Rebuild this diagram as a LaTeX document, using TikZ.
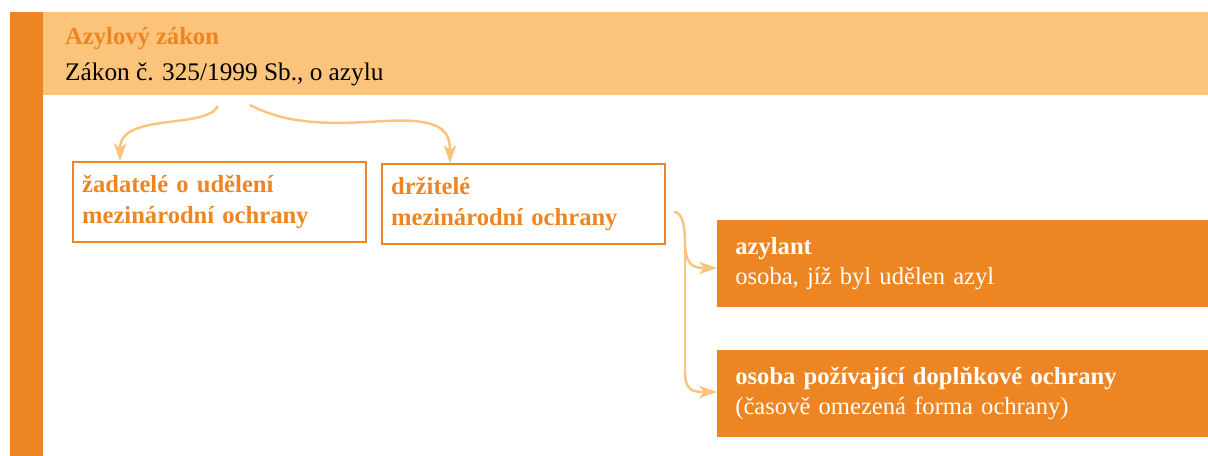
\documentclass[tikz,border=0pt]{standalone}
\usepackage{fontspec}
\setmainfont{Liberation Serif}
\usepackage{xcolor}
\usetikzlibrary{arrows.meta}
\definecolor{darkOrange}{HTML}{EE8523}
\definecolor{lightOrange}{HTML}{FCC47B}
\colorlet{textColor}{black}
\colorlet{strokeColor}{lightOrange}

\begin{document}
\begin{tikzpicture}[
    x=0.02cm, y=-0.02cm,
    outlinebox/.style={draw=darkOrange, line width=1.3pt, minimum height=80*0.02cm,
      anchor=north west, align=left, inner xsep=9*0.02cm, text=darkOrange, font=\bfseries\fontsize{14}{18}\selectfont},
    filledbox/.style={fill=darkOrange, minimum height=87*0.02cm,
      anchor=north west, align=left, inner xsep=18*0.02cm, text width=455*0.02cm, text=white, font=\fontsize{14}{17}\selectfont},
    flow/.style={color=strokeColor, line width=1.4pt, -{Stealth[length=10pt, width=7pt, inset=2.5pt]}},
  ]
    \useasboundingbox (0, 0) rectangle (1208, 456);
    % left bar and header band
    \fill[darkOrange] (10, 12) rectangle (43, 456);
    \fill[lightOrange] (43, 12) rectangle (1208, 95);
    \node[anchor=west, text=darkOrange, font=\bfseries\fontsize{14}{15}\selectfont] (title) at (59, 39) {Azylový zákon};
    \node[anchor=west, text=textColor, font=\fontsize{14.4}{15}\selectfont] (law) at (59, 74) {Zákon č. 325/1999 Sb., o azylu};

    % boxes
    \node[outlinebox, text width=275*0.02cm] (applicants) at (72, 161) {%
      žadatelé o udělení\\mezinárodní ochrany};
    \node[outlinebox, text width=265*0.02cm] (holders) at (381, 163) {%
      držitelé\\mezinárodní ochrany};
    \node[filledbox] (asylee) at (717, 220) {%
      \textbf{azylant}\\osoba, jíž byl udělen azyl};
    \node[filledbox] (subsidiary) at (717, 350) {%
      \textbf{osoba požívající doplňkové ochrany}\\(časově omezená forma ochrany)};

    % connectors
    \coordinate (fromA) at (218, 106);
    \coordinate (fromB) at (250, 105);
    \coordinate (fromH) at (674, 212);
    \coordinate (split) at (685, 245);
    \draw[flow] (fromA) .. controls (205, 130) and (120, 112) .. (applicants.north -| 120, 0);
    \draw[flow] (fromB) .. controls (290, 126) and (335, 124) .. (385, 121)
      .. controls (440, 118) and (450, 130) .. (holders.north -| 450, 0);
    \draw[flow] (fromH) .. controls (683, 212) and (685, 228) .. (split)
      .. controls (686, 264) and (692, 268) .. (asylee.west |- 0, 268);
    \draw[color=strokeColor, line width=1.4pt] (split) -- (685, 372);
    \draw[flow] (685, 372) .. controls (685, 390) and (692, 392) .. (subsidiary.west |- 0, 392);
  \end{tikzpicture}
\end{document}
